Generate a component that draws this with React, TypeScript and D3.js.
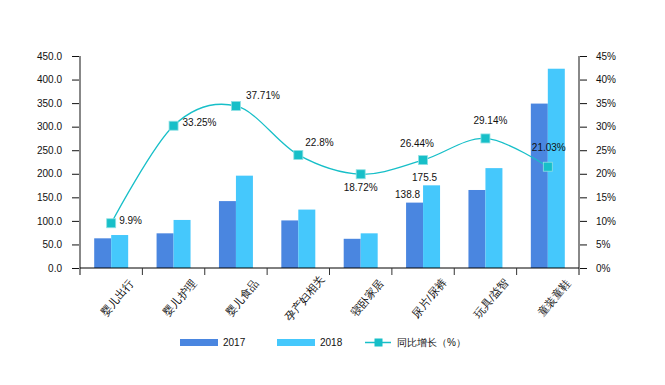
import React, { useRef, useEffect } from 'react';
import * as d3 from 'd3';

const categories = ['婴儿出行', '婴儿护理', '婴儿食品', '孕产妇相关', '寝卧家居', '尿片/尿裤', '玩具/益智', '童装童鞋'];
const series = ['2017', '2018'];
const values2017 = [63, 73.6, 142, 101, 62, 138.8, 165.6, 349];
const values2018 = [70, 102, 196, 124, 73.6, 175.5, 212, 423];
const growth = [9.5, 30.2, 34.4, 24, 19.9, 22.9, 27.5, 21.5];
const growthLabels = ['9.9%', '33.25%', '37.71%', '22.8%', '18.72%', '26.44%', '29.14%', '21.03%'];
const leftTicks = [0, 50, 100, 150, 200, 250, 300, 350, 400, 450];
const rightTicks = [0, 5, 10, 15, 20, 25, 30, 35, 40, 45];
const labeledBars = ['尿片/尿裤'];
const lineName = '同比增长（%）';

// where each growth label sits relative to its marker
const labelPlace: [number, number, string][] = [
  [8, -3, 'start'], [9, -3, 'start'], [10, -10, 'start'], [7, -12, 'start'],
  [0, 13, 'middle'], [-6, -17, 'middle'], [5, -18, 'middle'], [1, -19, 'middle'],
];

const colors = { '2017': '#4a86e0', '2018': '#45c8fc', line: '#17bfc8' };
const font = '"Liberation Sans", Arial, sans-serif';

function Chart() {
  const svgRef = useRef<SVGSVGElement>(null);

  useEffect(() => {
    const svg = d3.select(svgRef.current);
    svg.selectAll('*').remove();
    const left = 80, right = 579, top = 56, bottom = 268;

    const x = d3.scaleBand().domain(categories).range([left, right]);
    const pad = 14.2;
    const xSub = d3.scaleBand().domain(series).range([pad, x.bandwidth() - pad]);
    const yL = d3.scaleLinear().domain([0, 450]).range([bottom, top]);
    const yR = d3.scaleLinear().domain([0, 45]).range([bottom, top]);

    const g = svg.append('g').style('font-family', font).style('font-size', '10px');

    // bars
    const rows = categories.map((c, i) => ({ c, v: [values2017[i], values2018[i]] }));
    const grp = g.selectAll('g.grp').data(rows).enter().append('g')
      .attr('transform', d => `translate(${x(d.c)},0)`);
    grp.selectAll('rect').data(d => d.v.map((v, j) => ({ s: series[j], v })))
      .enter().append('rect')
      .attr('x', d => xSub(d.s)!)
      .attr('width', xSub.bandwidth())
      .attr('y', d => yL(d.v))
      .attr('height', d => bottom - yL(d.v))
      .attr('fill', d => (colors as any)[d.s]);
    grp.filter(d => labeledBars.includes(d.c)).selectAll('text').data(d => d.v.map((v, j) => ({ s: series[j], v })))
      .enter().append('text')
      .attr('x', d => xSub(d.s)! + xSub.bandwidth() - 3)
      .attr('y', d => yL(d.v) - 8)
      .attr('dy', '0.35em')
      .attr('text-anchor', 'end')
      .attr('fill', '#111')
      .text(d => d.v.toFixed(1));

    // left axis
    const axL = g.append('g').attr('transform', `translate(${left},0)`)
      .call(d3.axisLeft(yL).tickValues(leftTicks).tickSize(8).tickPadding(10).tickFormat(d => (+d).toFixed(1)));
    axL.select('.domain').remove();
    axL.selectAll('.tick line').attr('stroke', '#111');
    axL.selectAll('.tick text').attr('fill', '#111').style('font-family', font).style('font-size', '10px');
    g.append('line').attr('x1', left).attr('x2', left).attr('y1', top).attr('y2', bottom + 7)
      .attr('stroke', '#888').attr('stroke-width', 2);

    // right axis
    const axR = g.append('g').attr('transform', `translate(${right},0)`)
      .call(d3.axisRight(yR).tickValues(rightTicks).tickSize(8).tickPadding(9).tickFormat(d => `${d}%`));
    axR.select('.domain').remove();
    axR.selectAll('.tick line').attr('stroke', '#111');
    axR.selectAll('.tick text').attr('fill', '#111').style('font-family', font).style('font-size', '10px');
    g.append('line').attr('x1', right).attr('x2', right).attr('y1', top).attr('y2', bottom + 7)
      .attr('stroke', '#888').attr('stroke-width', 2);

    // x axis
    g.append('line').attr('x1', left).attr('x2', right).attr('y1', bottom).attr('y2', bottom)
      .attr('stroke', '#000');
    g.selectAll('line.xt').data(categories.slice(1)).enter().append('line')
      .attr('x1', d => x(d)!).attr('x2', d => x(d)!).attr('y1', bottom).attr('y2', bottom + 7)
      .attr('stroke', '#333');
    g.selectAll('text.cat').data(categories).enter().append('text')
      .attr('text-anchor', 'middle')
      .attr('dy', '0.35em')
      .attr('fill', '#111')
      .style('font-size', '11px')
      .attr('transform', d => `translate(${x(d)! + x.bandwidth() / 2 + 6},298) rotate(-50)`)
      .text(d => d);

    // growth line
    const pts = categories.map((c, i) => [x(c)! + x.bandwidth() / 2, yR(growth[i])] as [number, number]);
    const line = d3.line().curve(d3.curveCatmullRom.alpha(0));
    g.append('path').attr('d', line(pts)).attr('fill', 'none')
      .attr('stroke', colors.line).attr('stroke-width', 1.3);
    g.selectAll('rect.mk').data(pts).enter().append('rect')
      .attr('x', d => d[0] - 4.5).attr('y', d => d[1] - 4.5)
      .attr('width', 9).attr('height', 9)
      .attr('fill', colors.line).attr('stroke', '#8fe0e4').attr('stroke-width', 0.8);
    g.selectAll('text.gl').data(pts).enter().append('text')
      .attr('x', (d, i) => d[0] + labelPlace[i][0])
      .attr('y', (d, i) => d[1] + labelPlace[i][1])
      .attr('dy', '0.35em')
      .attr('text-anchor', (d, i) => labelPlace[i][2])
      .attr('fill', '#111')
      .text((d, i) => growthLabels[i]);

    // legend
    const lg = g.append('g').attr('transform', 'translate(180,342.5)');
    series.forEach((s, i) => {
      const ox = i * 97;
      lg.append('rect').attr('x', ox).attr('y', -3.5).attr('width', 38).attr('height', 7)
        .attr('fill', (colors as any)[s]);
      lg.append('text').attr('x', ox + 43).attr('dy', '0.35em').attr('fill', '#111').text(s);
    });
    lg.append('line').attr('x1', 185).attr('x2', 211).attr('stroke', colors.line).attr('stroke-width', 1.5);
    lg.append('rect').attr('x', 194.5).attr('y', -4).attr('width', 8).attr('height', 8)
      .attr('fill', colors.line);
    lg.append('text').attr('x', 217).attr('dy', '0.35em').attr('fill', '#111').text(lineName);
  }, []);

  return <svg ref={svgRef} width={665} height={385} style={{ display: 'block', background: '#fff' }}></svg>;
}

export default function App() {
  return (
    <div style={{ position: 'fixed', left: 0, top: 0 }}>
      <Chart />
    </div>
  );
}
